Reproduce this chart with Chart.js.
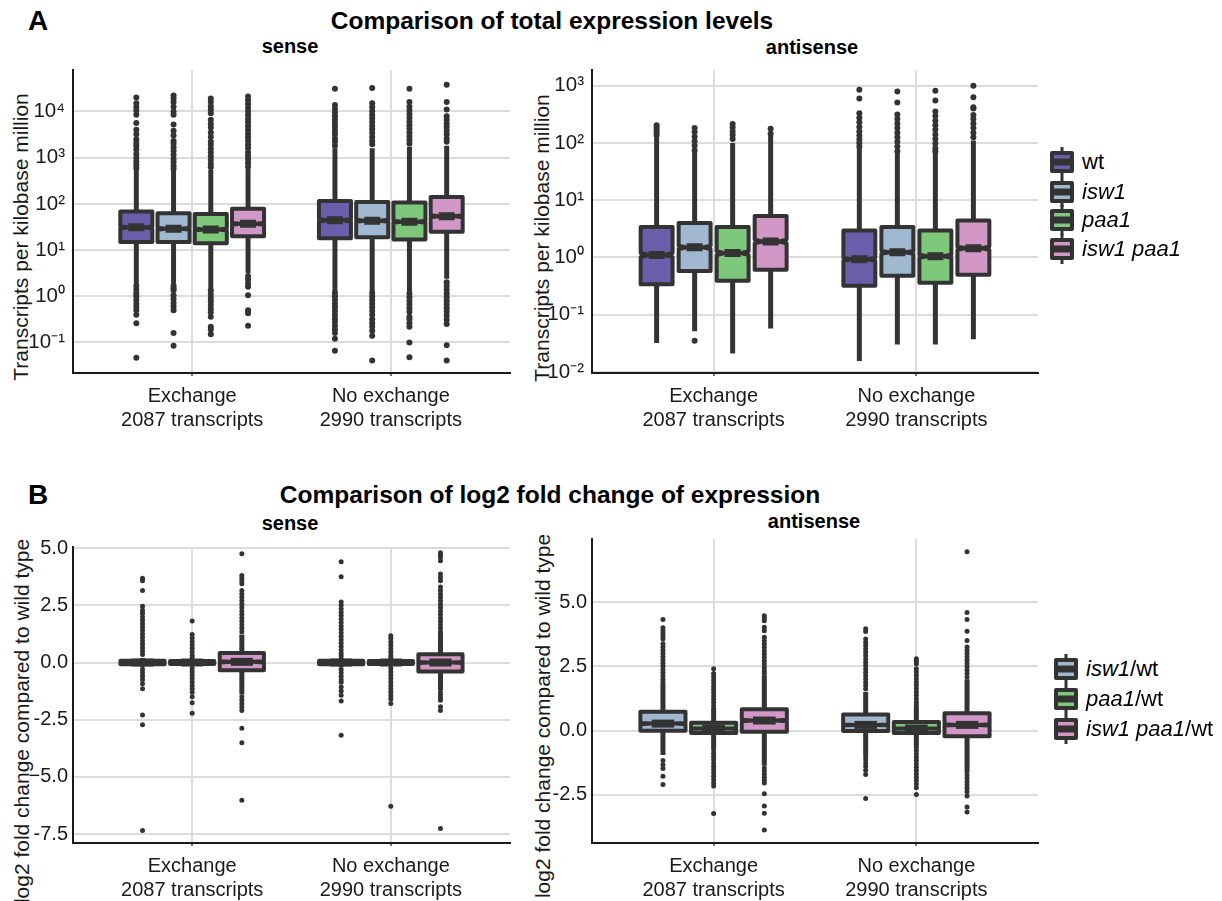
<!DOCTYPE html>
<html><head><meta charset="utf-8">
<script src="https://cdn.jsdelivr.net/npm/chart.js@4.4.1/dist/chart.umd.min.js"></script>
<style>
body{margin:0;background:#fff;}
#wrap{position:relative;width:1222px;height:901px;overflow:hidden;background:#fff;font-family:"Liberation Sans",Arial,sans-serif;color:#000;}
.t{position:absolute;line-height:1;white-space:nowrap;transform:translate(-50%,-50%);}
.b{font-weight:bold;}
.yt{position:absolute;line-height:1;white-space:nowrap;font-size:21px;color:#1a1a1a;transform:translate(-50%,-50%) rotate(-90deg);}
.pc{position:absolute;}
.row{position:absolute;display:flex;align-items:center;white-space:nowrap;transform:translateY(-50%);font-size:22px;line-height:1;color:#000;}
.row canvas{margin-right:6px;display:block;}
</style></head><body><div id="wrap">
<div class="t b" style="left:38px;top:21px;font-size:28px">A</div>
<div class="t b" style="left:552px;top:21px;font-size:24.5px">Comparison of total expression levels</div>
<div class="t b" style="left:290px;top:46px;font-size:20px">sense</div>
<div class="t b" style="left:812px;top:47px;font-size:20px">antisense</div>
<div class="t b" style="left:38px;top:495px;font-size:28px">B</div>
<div class="t b" style="left:550px;top:495px;font-size:24.5px">Comparison of log2 fold change of expression</div>
<div class="t b" style="left:290px;top:523px;font-size:20px">sense</div>
<div class="t b" style="left:814px;top:521px;font-size:20px">antisense</div>
<div class="yt" style="left:20px;top:237px">Transcripts per kilobase million</div>
<div class="yt" style="left:541px;top:238px">Transcripts per kilobase million</div>
<div class="yt" style="left:21px;top:721px">log2 fold change compared to wild type</div>
<div class="yt" style="left:542px;top:716px">log2 fold change compared to wild type</div>
<div class="pc" style="left:0;top:50px"><canvas id="cAS" width="520" height="390"></canvas></div>
<div class="pc" style="left:520px;top:50px"><canvas id="cAA" width="522" height="390"></canvas></div>
<div class="pc" style="left:0;top:530px"><canvas id="cBS" width="520" height="371"></canvas></div>
<div class="pc" style="left:520px;top:522px"><canvas id="cBA" width="522" height="379"></canvas></div>
</div>
<script>
// ---------------- data ----------------
const categoryNames = ["Exchange", "No exchange"];
const transcriptCounts = [2087, 2990];
const expressionSeries = ["wt", "isw1", "paa1", "isw1 paa1"];
const foldSeries = ["isw1/wt", "paa1/wt", "isw1 paa1/wt"];

const logTicksSense = [0.1, 1, 10, 100, 1000, 10000];
const logTickLabelsSense = ["10\u207B\u00B9", "10\u2070", "10\u00B9", "10\u00B2", "10\u00B3", "10\u2074"];
const logTicksAnti = [0.01, 0.1, 1, 10, 100, 1000];
const logTickLabelsAnti = ["10\u207B\u00B2", "10\u207B\u00B9", "10\u2070", "10\u00B9", "10\u00B2", "10\u00B3"];
const foldTicksSense = [-7.5, -5, -2.5, 0, 2.5, 5];
const foldTickLabelsSense = ["-7.5", "\u22125.0", "-2.5", "0.0", "2.5", "5.0"];
const foldTicksAnti = [-2.5, 0, 2.5, 5];
const foldTickLabelsAnti = ["-2.5", "0.0", "2.5", "5.0"];

// A sense: [series][category]
const aSenseQ1 = [[15, 18], [15, 19], [14, 17], [20, 25]];
const aSenseMedian = [[31, 44], [29, 43], [28, 41], [37, 54]];
const aSenseQ3 = [[68, 115], [63, 110], [60, 107], [78, 141]];
const aSenseWhiskerLow = [[1.8, 1.3], [1.9, 1.3], [1.5, 1.25], [3.2, 2.4]];
const aSenseWhiskerHigh = [[560, 1600], [540, 1600], [540, 1700], [560, 1800]];
const aSenseOutliers = [
  [[2.0e4, 1.5e4, 1.26e4, 1.05e4, 8.5e3, 5.6e3, 4.0e3, 3.2e3, 2.5e3, 2.1e3, 1.8e3, 1.5e3, 1.2e3, 1.0e3, 830, 690, 600, 1.7, 1.4, 1.17, 1.0, 0.83, 0.69, 0.59, 0.5, 0.4, 0.26, 0.047],
   [3.1e4, 1.38e4, 1.15e4, 9.5e3, 7.9e3, 6.6e3, 5.5e3, 4.6e3, 3.8e3, 3.2e3, 2.6e3, 2.2e3, 1.8e3, 1.2, 1.0, 0.83, 0.69, 0.58, 0.48, 0.4, 0.33, 0.28, 0.23, 0.19, 0.16, 0.12, 0.066]],
  [[2.2e4, 1.9e4, 1.6e4, 1.26e4, 1.0e4, 8.5e3, 5.2e3, 3.8e3, 3.0e3, 2.3e3, 2.0e3, 1.66e3, 1.4e3, 1.15e3, 950, 800, 660, 575, 1.7, 1.5, 1.35, 1.05, 0.87, 0.72, 0.6, 0.5, 0.16, 0.085],
   [3.2e4, 1.5e4, 1.23e4, 1.02e4, 8.5e3, 7.1e3, 5.9e3, 4.9e3, 4.1e3, 3.4e3, 2.8e3, 2.3e3, 1.95e3, 1.2, 1.0, 0.83, 0.69, 0.58, 0.48, 0.4, 0.32, 0.26, 0.22, 0.18, 0.14, 0.041]],
  [[1.9e4, 1.6e4, 1.3e4, 1.1e4, 9.1e3, 6.6e3, 5.4e3, 4.5e3, 3.5e3, 2.8e3, 2.2e3, 1.9e3, 1.55e3, 1.3e3, 1.07e3, 890, 740, 620, 1.35, 1.12, 0.93, 0.78, 0.65, 0.54, 0.45, 0.36, 0.22, 0.19, 0.15],
   [3.1e4, 1.6e4, 1.26e4, 1.05e4, 8.7e3, 7.2e3, 6.0e3, 5.0e3, 4.2e3, 3.5e3, 2.9e3, 2.4e3, 2.0e3, 1.15, 0.95, 0.79, 0.66, 0.55, 0.46, 0.36, 0.32, 0.26, 0.22, 0.1, 0.048]],
  [[2.1e4, 1.75e4, 1.45e4, 1.2e4, 1.0e4, 8.3e3, 6.9e3, 5.8e3, 4.8e3, 4.0e3, 3.3e3, 2.75e3, 2.3e3, 1.9e3, 1.6e3, 1.3e3, 1.1e3, 910, 760, 630, 2.75, 2.3, 1.9, 1.6, 1.05, 0.5, 0.43, 0.23],
   [3.8e4, 1.6e4, 1.1e4, 7.9e3, 6.6e3, 5.5e3, 4.6e3, 3.8e3, 3.2e3, 2.6e3, 2.2e3, 2.0, 1.66, 1.38, 1.15, 0.95, 0.79, 0.66, 0.55, 0.46, 0.38, 0.31, 0.25, 0.087, 0.041]]
];

// A antisense
const aAntiQ1 = [[0.34, 0.32], [0.58, 0.48], [0.39, 0.36], [0.61, 0.50]];
const aAntiMedian = [[1.1, 0.93], [1.5, 1.23], [1.19, 1.05], [1.9, 1.45]];
const aAntiQ3 = [[3.4, 2.95], [4.0, 3.4], [3.4, 2.95], [5.3, 4.4]];
const aAntiWhiskerLow = [[0.032, 0.0155], [0.051, 0.030], [0.021, 0.030], [0.057, 0.037]];
const aAntiWhiskerHigh = [[125, 81], [69, 66], [100, 69], [135, 110]];
const aAntiOutliers = [
  [[135, 150, 165, 185, 205], [850, 600, 330, 275, 230, 190, 158, 135, 115, 100, 87]],
  [[74, 89, 107, 129, 155, 182, 0.035], [790, 510, 316, 263, 219, 182, 151, 126, 105, 87, 72]],
  [[117, 138, 158, 186, 214], [820, 550, 355, 295, 245, 204, 170, 141, 117, 98, 81, 71]],
  [[145, 178], [1000, 630, 420, 400, 309, 263, 219, 182, 151, 126]]
];

// B sense (log2 fold change)
const bSenseQ1 = [[-0.08, -0.08], [-0.07, -0.07], [-0.34, -0.39]];
const bSenseMedian = [[0, 0], [0, 0], [0.03, 0.0]];
const bSenseQ3 = [[0.08, 0.08], [0.07, 0.07], [0.42, 0.36]];
const bSenseWhiskerLow = [[-0.2, -0.2], [-0.15, -0.15], [-1.4, -1.2]];
const bSenseWhiskerHigh = [[0.2, 0.2], [0.15, 0.15], [1.22, 1.2]];
const bSenseOutliers = [
  [[3.68, 3.58, 3.15, 2.46, 2.29, 2.15, 2.0, 1.85, 1.7, 1.55, 1.4, 1.25, 1.1, 0.95, 0.8, 0.65, 0.5, 0.35, -0.29, -0.45, -0.6, -0.75, -0.93, -1.15, -2.29, -2.72, -7.34],
   [4.40, 3.75, 2.65, 2.5, 2.35, 2.2, 2.05, 1.9, 1.75, 1.6, 1.45, 1.3, 1.15, 1.0, 0.85, 0.7, 0.55, 0.4, 0.28, -0.29, -0.45, -0.6, -0.75, -0.86, -1.07, -1.25, -1.43, -1.68, -3.18]],
  [[1.82, 1.22, 1.07, 0.92, 0.77, 0.62, 0.47, 0.32, 0.2, -0.25, -0.4, -0.55, -0.7, -0.85, -1.0, -1.15, -1.3, -1.5, -1.76, -2.22],
   [1.17, 1.05, 0.9, 0.75, 0.6, 0.45, 0.3, 0.2, -0.25, -0.4, -0.55, -0.7, -0.85, -1.0, -1.15, -1.3, -1.45, -1.6, -1.79, -6.28]],
  [[4.76, 3.80, 3.68, 3.56, 3.44, 3.15, 3.0, 2.85, 2.7, 2.55, 2.4, 2.25, 2.1, 1.95, 1.8, 1.65, 1.5, 1.35, -1.5, -1.65, -1.8, -1.95, -2.1, -2.87, -3.51, -6.02],
   [4.80, 4.70, 4.6, 4.45, 3.87, 3.72, 3.58, 3.30, 3.15, 3.0, 2.85, 2.7, 2.55, 2.4, 2.25, 2.1, 1.95, 1.8, 1.65, 1.5, 1.35, 1.25, -1.29, -1.42, -1.55, -1.65, -1.93, -2.1, -7.26]]
];

// B antisense
const bAntiQ1 = [[-0.01, -0.02], [-0.1, -0.1], [-0.05, -0.22]];
const bAntiMedian = [[0.27, 0.22], [0.08, 0.08], [0.39, 0.22]];
const bAntiQ3 = [[0.73, 0.62], [0.3, 0.33], [0.83, 0.67]];
const bAntiWhiskerLow = [[-0.95, -0.95], [-0.7, -0.6], [-1.37, -1.55]];
const bAntiWhiskerHigh = [[1.84, 1.5], [0.9, 0.95], [2.15, 2.0]];
const bAntiOutliers = [
  [[4.32, 4.0, 3.9, 3.78, 3.66, 3.57, 3.38, 3.25, 3.12, 3.0, 2.87, 2.75, 2.62, 2.5, 2.37, 2.25, 2.12, 2.0, 1.9, -1.17, -1.33, -1.48, -1.78, -2.1],
   [3.96, 3.86, 3.57, 3.44, 3.31, 3.18, 3.05, 2.92, 2.79, 2.66, 2.53, 2.4, 2.27, 2.14, 2.01, 1.88, 1.75, 1.62, -1.0, -1.13, -1.26, -1.4, -1.55, -1.71, -2.65]],
  [[2.41, 2.22, 2.1, 1.97, 1.85, 1.72, 1.6, 1.47, 1.35, 1.22, 1.1, 0.97, -0.75, -0.88, -1.0, -1.13, -1.26, -1.39, -1.52, -1.65, -1.78, -1.91, -2.04, -2.16, -3.23],
   [2.80, 2.70, 2.60, 2.41, 2.28, 2.15, 2.02, 1.89, 1.76, 1.63, 1.5, 1.37, 1.24, 1.11, 1.0, -0.65, -0.78, -0.91, -1.04, -1.17, -1.3, -1.43, -1.56, -1.69, -1.82, -1.95, -2.08, -2.23, -2.49]],
  [[4.47, 4.38, 4.28, 4.02, 3.89, 3.63, 3.5, 3.37, 3.24, 3.11, 2.98, 2.85, 2.72, 2.59, 2.46, 2.33, 2.22, -1.46, -1.58, -1.7, -1.82, -1.94, -2.04, -2.46, -2.94, -3.22, -3.87],
   [6.96, 4.60, 4.32, 3.87, 3.51, 3.25, 3.13, 3.0, 2.87, 2.74, 2.61, 2.48, 2.35, 2.22, 2.09, -1.6, -1.73, -1.86, -1.99, -2.12, -2.25, -2.38, -2.55, -2.98, -3.17]]
];

// ---------------- styles ----------------
const FONT = "'Liberation Sans', Arial, sans-serif";
const DARK = "#333333";
const GRID = "#dcdcdc";
const expressionColors = ["#6a5fab", "#a0b8d0", "#7ec87c", "#d197c6"];
const foldColors = ["#a0b8d0", "#7ec87c", "#d197c6"];

function buildPanel(p) {
  const S = p.series.length;
  const nCat = categoryNames.length;
  const xOf = (s, c) => c + 1 + (s - (S - 1) / 2) * p.slot;
  const datasets = p.series.map((name, s) => ({
    label: name,
    data: p.outliers[s].flatMap((vals, c) => vals.map(v => ({x: xOf(s, c), y: v}))),
    pointRadius: p.pointRadius, pointHoverRadius: p.pointRadius,
    backgroundColor: DARK, borderColor: DARK, pointBorderWidth: 0, borderWidth: 0
  }));
  const isLog = p.yType === 'logarithmic';
  const tf = v => isLog ? Math.log10(v) : v;
  const itf = v => isLog ? Math.pow(10, v) : v;
  const boxPlugin = {
    id: 'boxes' + p.id,
    afterDatasetsDraw(chart) {
      const {ctx, chartArea: ca} = chart;
      const x = chart.scales.x, y = chart.scales.y;
      ctx.save();
      ctx.beginPath(); ctx.rect(ca.left, ca.top, ca.right - ca.left, ca.bottom - ca.top); ctx.clip();
      for (let s = 0; s < S; s++) for (let c = 0; c < nCat; c++) {
        const xv = xOf(s, c);
        const cx = x.getPixelForValue(xv);
        const hw = x.getPixelForValue(xv + p.slot * p.boxFrac / 2) - cx;
        const q1 = p.q1[s][c], q3 = p.q3[s][c], med = p.median[s][c];
        const nd = 1.58 * (tf(q3) - tf(q1)) / Math.sqrt(transcriptCounts[c]);
        const yq1 = y.getPixelForValue(q1), yq3 = y.getPixelForValue(q3), ym = y.getPixelForValue(med);
        const ynU = y.getPixelForValue(itf(tf(med) + nd)), ynL = y.getPixelForValue(itf(tf(med) - nd));
        const ylo = y.getPixelForValue(p.whiskerLow[s][c]), yhi = y.getPixelForValue(p.whiskerHigh[s][c]);
        ctx.strokeStyle = DARK; ctx.lineCap = 'butt';
        ctx.lineWidth = p.whiskerWidth;
        ctx.beginPath(); ctx.moveTo(cx, yq3); ctx.lineTo(cx, yhi); ctx.moveTo(cx, yq1); ctx.lineTo(cx, ylo); ctx.stroke();
        const L = cx - hw, R = cx + hw, nIn = hw * 0.5;
        ctx.beginPath();
        ctx.moveTo(L, yq3); ctx.lineTo(R, yq3); ctx.lineTo(R, ynU); ctx.lineTo(R - nIn, ym); ctx.lineTo(R, ynL);
        ctx.lineTo(R, yq1); ctx.lineTo(L, yq1); ctx.lineTo(L, ynL); ctx.lineTo(L + nIn, ym); ctx.lineTo(L, ynU);
        ctx.closePath();
        ctx.fillStyle = p.colors[s]; ctx.fill();
        ctx.lineJoin = 'round'; ctx.lineWidth = p.boxLine; ctx.stroke();
        ctx.lineWidth = p.boxLine * 2;
        ctx.beginPath(); ctx.moveTo(L + nIn, ym); ctx.lineTo(R - nIn, ym); ctx.stroke();
      }
      ctx.restore();
    }
  };
  new Chart(document.getElementById(p.id), {
    type: 'scatter',
    data: {datasets},
    options: {
      responsive: false, animation: false, events: [], devicePixelRatio: 1,
      layout: {padding: {left: 0, right: p.padRight, top: p.padTop, bottom: 0}},
      plugins: {legend: {display: false}, tooltip: {enabled: false}},
      scales: {
        x: {
          type: 'linear', min: 0.4, max: nCat + 0.6,
          afterBuildTicks: sc => { sc.ticks = categoryNames.map((_, i) => ({value: i + 1})); },
          afterFit: sc => { sc.height = p.xHeight; },
          ticks: {callback: (v, i) => [categoryNames[i], transcriptCounts[i] + " transcripts"],
                  font: {family: FONT, size: 20, lineHeight: 1.2}, color: '#1a1a1a', padding: 8, maxRotation: 0, autoSkip: false},
          grid: {color: GRID, lineWidth: 2, drawTicks: true, tickLength: 3, tickColor: '#444', tickWidth: 1.5},
          border: {color: '#1a1a1a', width: 2}
        },
        y: {
          type: p.yType, min: p.yMin, max: p.yMax,
          afterBuildTicks: sc => { sc.ticks = p.ticks.map(v => ({value: v})); },
          afterFit: sc => { sc.width = p.yWidth; },
          ticks: {callback: (v, i) => p.tickLabels[i], font: {family: FONT, size: p.tickSize}, color: '#1a1a1a', padding: p.tickPad, autoSkip: false},
          grid: {color: GRID, lineWidth: 2, drawTicks: false},
          border: {color: '#1a1a1a', width: 2}
        }
      }
    },
    plugins: [boxPlugin]
  });
}

buildPanel({id: 'cAS', series: expressionSeries, colors: expressionColors, yType: 'logarithmic',
  yMin: Math.pow(10, -1.66), yMax: Math.pow(10, 4.89), ticks: logTicksSense, tickLabels: logTickLabelsSense,
  q1: aSenseQ1, median: aSenseMedian, q3: aSenseQ3, whiskerLow: aSenseWhiskerLow, whiskerHigh: aSenseWhiskerHigh, outliers: aSenseOutliers,
  slot: 0.1875, boxFrac: 0.86, boxLine: 4, whiskerWidth: 5, pointRadius: 3,
  padTop: 13, padRight: 10, yWidth: 73, xHeight: 67, tickSize: 20.5, tickPad: 8});
buildPanel({id: 'cAA', series: expressionSeries, colors: expressionColors, yType: 'logarithmic',
  yMin: Math.pow(10, -2.02), yMax: Math.pow(10, 3.27), ticks: logTicksAnti, tickLabels: logTickLabelsAnti,
  q1: aAntiQ1, median: aAntiMedian, q3: aAntiQ3, whiskerLow: aAntiWhiskerLow, whiskerHigh: aAntiWhiskerHigh, outliers: aAntiOutliers,
  slot: 0.1875, boxFrac: 0.84, boxLine: 4, whiskerWidth: 5, pointRadius: 3,
  padTop: 13, padRight: 4, yWidth: 72, xHeight: 67, tickSize: 20.5, tickPad: 8});
buildPanel({id: 'cBS', series: foldSeries, colors: foldColors, yType: 'linear',
  yMin: -7.89, yMax: 5.05, ticks: foldTicksSense, tickLabels: foldTickLabelsSense,
  q1: bSenseQ1, median: bSenseMedian, q3: bSenseQ3, whiskerLow: bSenseWhiskerLow, whiskerHigh: bSenseWhiskerHigh, outliers: bSenseOutliers,
  slot: 0.25, boxFrac: 0.89, boxLine: 4, whiskerWidth: 5, pointRadius: 2.5,
  padTop: 13, padRight: 10, yWidth: 73, xHeight: 58, tickSize: 20, tickPad: 5});
buildPanel({id: 'cBA', series: foldSeries, colors: foldColors, yType: 'linear',
  yMin: -4.38, yMax: 7.46, ticks: foldTicksAnti, tickLabels: foldTickLabelsAnti,
  q1: bAntiQ1, median: bAntiMedian, q3: bAntiQ3, whiskerLow: bAntiWhiskerLow, whiskerHigh: bAntiWhiskerHigh, outliers: bAntiOutliers,
  slot: 0.25, boxFrac: 0.89, boxLine: 4, whiskerWidth: 5, pointRadius: 2.5,
  padTop: 13, padRight: 4, yWidth: 72, xHeight: 58, tickSize: 20, tickPad: 5});

// ---------------- legends ----------------
function glyph(color) {
  const c = document.createElement('canvas');
  c.width = 28; c.height = 34;
  const g = c.getContext('2d');
  g.strokeStyle = DARK; g.lineWidth = 3;
  g.beginPath(); g.moveTo(14, 2); g.lineTo(14, 32); g.stroke();
  g.fillStyle = color; g.fillRect(4, 8, 20, 18);
  g.lineJoin = 'round'; g.lineWidth = 4; g.strokeRect(4, 8, 20, 18);
  g.lineWidth = 7; g.beginPath(); g.moveTo(4, 17); g.lineTo(24, 17); g.stroke();
  return c;
}
function legend(names, colors, left, ys) {
  names.forEach((n, i) => {
    const row = document.createElement('div');
    row.className = 'row';
    row.style.left = left + 'px'; row.style.top = ys[i] + 'px';
    row.appendChild(glyph(colors[i]));
    const sp = document.createElement('span');
    const parts = n.split('/');
    if (parts[0] === 'wt') { sp.textContent = n; }
    else {
      const it = document.createElement('i'); it.textContent = parts[0]; sp.appendChild(it);
      if (parts.length > 1) sp.appendChild(document.createTextNode('/' + parts[1]));
    }
    row.appendChild(sp);
    document.getElementById('wrap').appendChild(row);
  });
}
legend(expressionSeries, expressionColors, 1048, [162, 192, 220, 249]);
legend(foldSeries, foldColors, 1052, [669, 699, 729]);
</script></body></html>
